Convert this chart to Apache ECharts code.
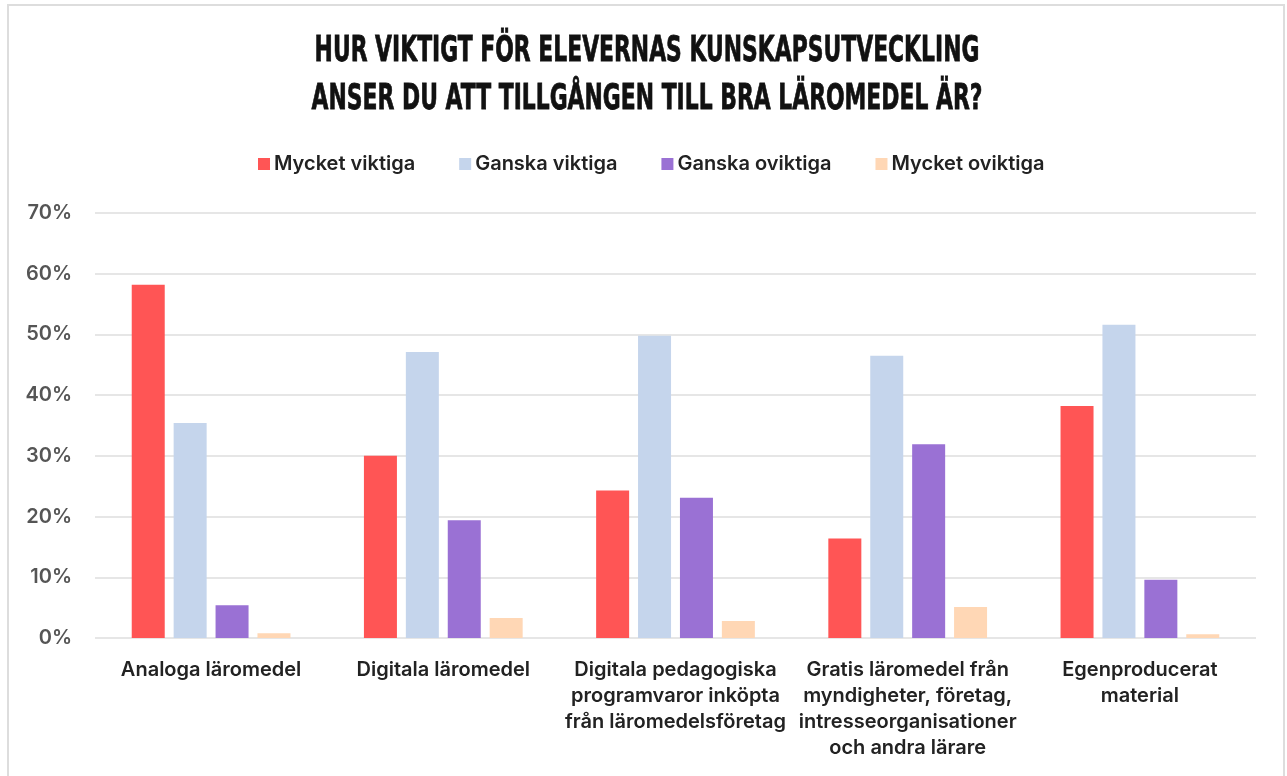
<!DOCTYPE html>
<html lang="sv">
<head>
  <meta charset="UTF-8">
  <title>Läromedel</title>
  <script src="https://cdn.jsdelivr.net/npm/echarts@6/dist/echarts.min.js"></script>
  <style>
    html, body { margin: 0; padding: 0; background: #fff; }
    #chart { width: 1287px; height: 776px; }
  </style>
</head>
<body>
<div id="chart"></div>
<script>
  // kategorier (x-axeln)
  var categories = [
    'Analoga läromedel',
    'Digitala läromedel',
    'Digitala pedagogiska\nprogramvaror inköpta\nfrån läromedelsföretag',
    'Gratis läromedel från\nmyndigheter, företag,\nintresseorganisationer\noch andra lärare',
    'Egenproducerat\nmaterial'
  ];
  var seriesNames = ['Mycket viktiga', 'Ganska viktiga', 'Ganska oviktiga', 'Mycket oviktiga'];
  // värden i procent
  var mycketViktiga = [58.2, 30.0, 24.3, 16.4, 38.2];
  var ganskaViktiga = [35.4, 47.1, 49.8, 46.5, 51.6];
  var ganskaOviktiga = [5.4, 19.4, 23.1, 31.9, 9.6];
  var mycketOviktiga = [0.8, 3.3, 2.8, 5.1, 0.6];
  var colors = ['#ff5555', '#c5d5ec', '#9a71d4', '#ffd7b5'];
  var titleText = 'HUR VIKTIGT FÖR ELEVERNAS KUNSKAPSUTVECKLING\nANSER DU ATT TILLGÅNGEN TILL BRA LÄROMEDEL ÄR?';

  var allData = [mycketViktiga, ganskaViktiga, ganskaOviktiga, mycketOviktiga];
  var textFont = 'Inter, "Noto Sans", sans-serif';

  var myChart = echarts.init(document.getElementById('chart'));
  var option = {
    backgroundColor: '#fff',
    color: colors,
    legend: {
      top: 149,
      left: 253,
      icon: 'rect',
      itemWidth: 12,
      itemHeight: 12,
      itemGap: 44,
      data: seriesNames,
      textStyle: {
        fontFamily: textFont,
        fontSize: 20,
        fontWeight: 600,
        color: '#222',
        padding: [0, 0, 0, -1]
      }
    },
    grid: {
      left: 95,
      right: 31,
      top: 213,
      bottom: 138
    },
    xAxis: {
      type: 'category',
      data: categories,
      axisLine: { show: false },
      axisTick: { show: false },
      axisLabel: {
        interval: 0,
        margin: 19,
        fontFamily: textFont,
        fontSize: 20,
        fontWeight: 600,
        lineHeight: 26,
        color: '#222',
        verticalAlign: 'top'
      }
    },
    yAxis: {
      type: 'value',
      min: 0,
      max: 70,
      interval: 10,
      axisLine: { show: false },
      axisTick: { show: false },
      axisLabel: {
        margin: 23,
        fontFamily: textFont,
        fontSize: 20,
        fontWeight: 600,
        color: '#555',
        formatter: '{value}%'
      },
      splitLine: { lineStyle: { color: '#e6e6e6', width: 2 } }
    },
    graphic: [{
      type: 'rect',
      shape: { x: 8, y: 5, width: 1276, height: 800 },
      style: { fill: 'none', stroke: '#dddddd', lineWidth: 2 },
      silent: true
    }, {
      // smal rubrik: vanlig fetstil hoptryckt på bredden
      type: 'text',
      x: 647,
      y: 76,
      scaleX: 0.625,
      style: {
        text: titleText,
        fontFamily: '"DejaVu Sans", sans-serif',
        fontWeight: 'bold',
        fontSize: 35,
        lineHeight: 48,
        fill: '#111',
        stroke: '#111',
        lineWidth: 0.8,
        align: 'center',
        verticalAlign: 'middle'
      },
      silent: true
    }],
    series: seriesNames.map(function (name, i) {
      return {
        name: name,
        type: 'bar',
        data: allData[i],
        barWidth: 33,
        barGap: '27%',
        itemStyle: { color: colors[i] }
      };
    })
  };
  myChart.setOption(option);
</script>
</body>
</html>
